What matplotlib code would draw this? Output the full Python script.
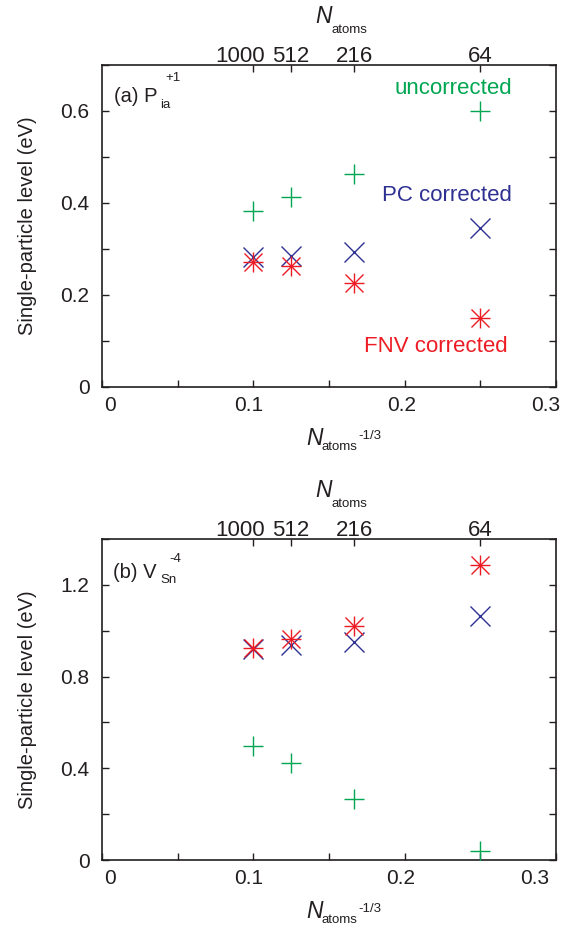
import matplotlib

matplotlib.use("Agg")
import matplotlib.pyplot as plt
from matplotlib.ticker import MultipleLocator, FixedLocator, FuncFormatter, NullFormatter

plt.rcParams["font.family"] = ["Liberation Sans", "DejaVu Sans"]

# supercell sizes and the x variable N^-1/3
natoms = [1000, 512, 216, 64]
x_vals = [n ** (-1.0 / 3.0) for n in natoms]
x_ticks = [0, 0.1, 0.2, 0.3]

# (a) P_ia^+1
a_uncorr = [0.383, 0.414, 0.464, 0.600]
a_pc = [0.283, 0.285, 0.293, 0.345]
a_fnv = [0.272, 0.264, 0.227, 0.151]

# (b) V_Sn^-4
b_uncorr = [0.498, 0.422, 0.268, 0.039]
b_pc = [0.920, 0.939, 0.949, 1.066]
b_fnv = [0.923, 0.965, 1.022, 1.287]

GREEN = "#00A651"
BLUE = "#2E3192"
RED = "#ED1C24"
INK = "#231F20"

W, H = 569, 926
fig = plt.figure(figsize=(W / 100, H / 100), dpi=100)
ax_a = fig.add_axes([102 / W, 1 - 387 / H, 454 / W, 322 / H])
ax_b = fig.add_axes([102 / W, 1 - 860 / H, 454 / W, 321 / H])


def ptext(x, y, s, size, **kw):
    """text at figure pixel coords (from top-left), baseline aligned"""
    fig.text(x / W, 1 - y / H, s, fontsize=size, va="baseline", ha="left", color=INK, **kw)


def draw_panel(ax, unc, pc, fnv, ymax, ystep, bottom_dx):
    ax.plot(x_vals, unc, ls="none", marker="+", ms=14, mew=1.0, color=GREEN, zorder=3)
    ax.plot(x_vals, pc, ls="none", marker="x", ms=14.5, mew=1.0, color=BLUE, zorder=3)
    # asterisk = plus + cross
    ax.plot(x_vals, fnv, ls="none", marker="+", ms=14, mew=1.0, color=RED, zorder=4)
    ax.plot(x_vals, fnv, ls="none", marker="x", ms=12.5, mew=1.0, color=RED, zorder=4)

    ax.set_xlim(0, 0.3)
    ax.set_ylim(0, ymax)
    ax.xaxis.set_major_locator(MultipleLocator(0.05))
    ax.xaxis.set_major_formatter(NullFormatter())
    ax.yaxis.set_major_locator(MultipleLocator(ystep / 2))
    ax.yaxis.set_major_formatter(
        FuncFormatter(lambda v, p: f"{v:g}" if abs(round(v / ystep) * ystep - v) < 1e-9 else "")
    )
    ax.tick_params(direction="in", length=5, width=1, colors=INK, labelsize=15,
                   right=True, top=False)
    ax.tick_params(axis="y", pad=9)
    for s in ax.spines.values():
        s.set_linewidth(1.2)
        s.set_color(INK)

    # bottom tick labels, nudged like the original
    for v, dx in zip(x_ticks, bottom_dx):
        ax.annotate(f"{v:g}", xy=(v, 0), xycoords=("data", "axes fraction"),
                    xytext=(dx * 0.72, -6.5), textcoords="offset points",
                    ha="center", va="top", fontsize=15, color=INK)

    ax.set_ylabel("Single-particle level (eV)", fontsize=14.5, color=INK)
    ax.yaxis.set_label_coords(-0.143, 0.5)

    top = ax.twiny()
    top.set_xlim(ax.get_xlim())
    top.xaxis.set_major_locator(FixedLocator(x_vals))
    top.xaxis.set_major_formatter(NullFormatter())
    top.tick_params(direction="in", length=5, width=1, colors=INK)
    for s in top.spines.values():
        s.set_visible(False)
    for n, xv, dx in zip(natoms, x_vals, [-13, 0, 0, 0]):
        ax.annotate(str(n), xy=(xv, 1), xycoords=("data", "axes fraction"),
                    xytext=(dx * 0.72, 2.2), textcoords="offset points",
                    ha="center", va="baseline", fontsize=16, color=INK)


draw_panel(ax_a, a_uncorr, a_pc, a_fnv, 0.7, 0.2, [8, -5, -3, -10])
draw_panel(ax_b, b_uncorr, b_pc, b_fnv, 1.4, 0.4, [8, -5, -4, -21])

# axis titles N_atoms (top) and N_atoms^-1/3 (bottom), for both panels
for top_y, bot_y in [(65, 387), (539, 860)]:
    ptext(315, top_y - 42, "N", 16.5, style="italic")
    ptext(331, top_y - 32, "atoms", 9.5)
    ptext(306, bot_y + 58, "N", 16.5, style="italic")
    ptext(322, bot_y + 63, "atoms", 9.5)
    ptext(358, bot_y + 52, "-1/3", 9.5)

# panel labels
ptext(114, 102, "(a) P", 14.5)
ptext(160, 108, "ia", 9.5)
ptext(165, 81, "+1", 9.5)
ptext(113, 578, "(b) V", 14.5)
ptext(160, 583, "Sn", 9.5)
ptext(169, 562, "-4", 9.5)

ax_a.text(0.271, 0.65, "uncorrected", color=GREEN, fontsize=16, ha="right", va="center")
ax_a.text(0.271, 0.417, "PC corrected", color=BLUE, fontsize=16, ha="right", va="center")
ax_a.text(0.268, 0.087, "FNV corrected", color=RED, fontsize=16, ha="right", va="center")

fig.savefig("out.png", dpi=100)
